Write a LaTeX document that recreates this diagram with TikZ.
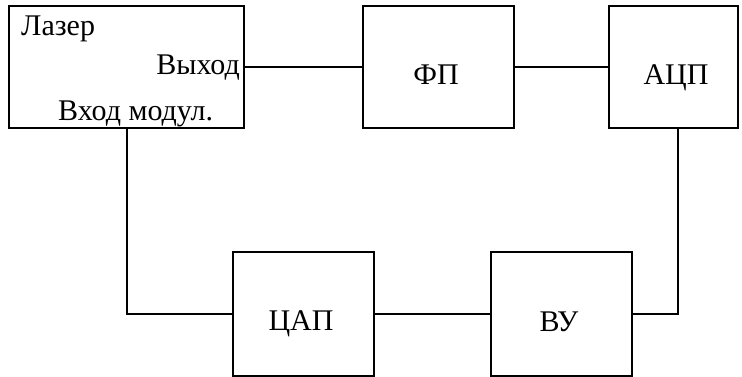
\documentclass[tikz,border=0pt]{standalone}
\usepackage{fontspec}
\setmainfont{Liberation Serif}
\begin{document}
\begin{tikzpicture}[x=1pt,y=1pt,
  blk/.style={draw, line width=2pt, rectangle, inner sep=0pt},
  lbl/.style={inner sep=0pt, font=\fontsize{30}{34}\selectfont},
  wire/.style={line width=2pt}]
\useasboundingbox (0,0) rectangle (742,-377);
\node[blk, minimum width=235pt, minimum height=122pt] (laser) at (126.5,-67) {};
\node[blk, minimum width=151pt, minimum height=122pt] (fp) at (438.5,-67) {};
\node[blk, minimum width=129pt, minimum height=122pt] (adc) at (673.5,-67) {};
\node[blk, minimum width=141pt, minimum height=124pt] (dac) at (303.5,-314) {};
\node[blk, minimum width=141pt, minimum height=124pt] (vu) at (561.5,-314) {};
\node[lbl, anchor=base west] (tlaser) at (21,-36) {Лазер};
\node[lbl, anchor=base east] (tout) at (240,-75) {Выход};
\node[lbl, anchor=base west] (tin) at (58,-121) {Вход модул.};
\node[lbl, anchor=base] (tfp) at (436,-85) {ФП};
\node[lbl, anchor=base] (tadc) at (676,-85) {АЦП};
\node[lbl, anchor=base] (tdac) at (301,-330) {ЦАП};
\node[lbl, anchor=base] (tvu) at (559,-331) {ВУ};
\coordinate (c1) at (678,-314);
\draw[wire] (laser.east) -- (fp.west);
\draw[wire] (fp.east) -- (adc.west);
\draw[wire] (laser.south) |- (dac.west);
\draw[wire] (dac.east) -- (vu.west);
\draw[wire] (vu.east) -- (c1) -- (c1 |- adc.south);
\end{tikzpicture}
\end{document}
